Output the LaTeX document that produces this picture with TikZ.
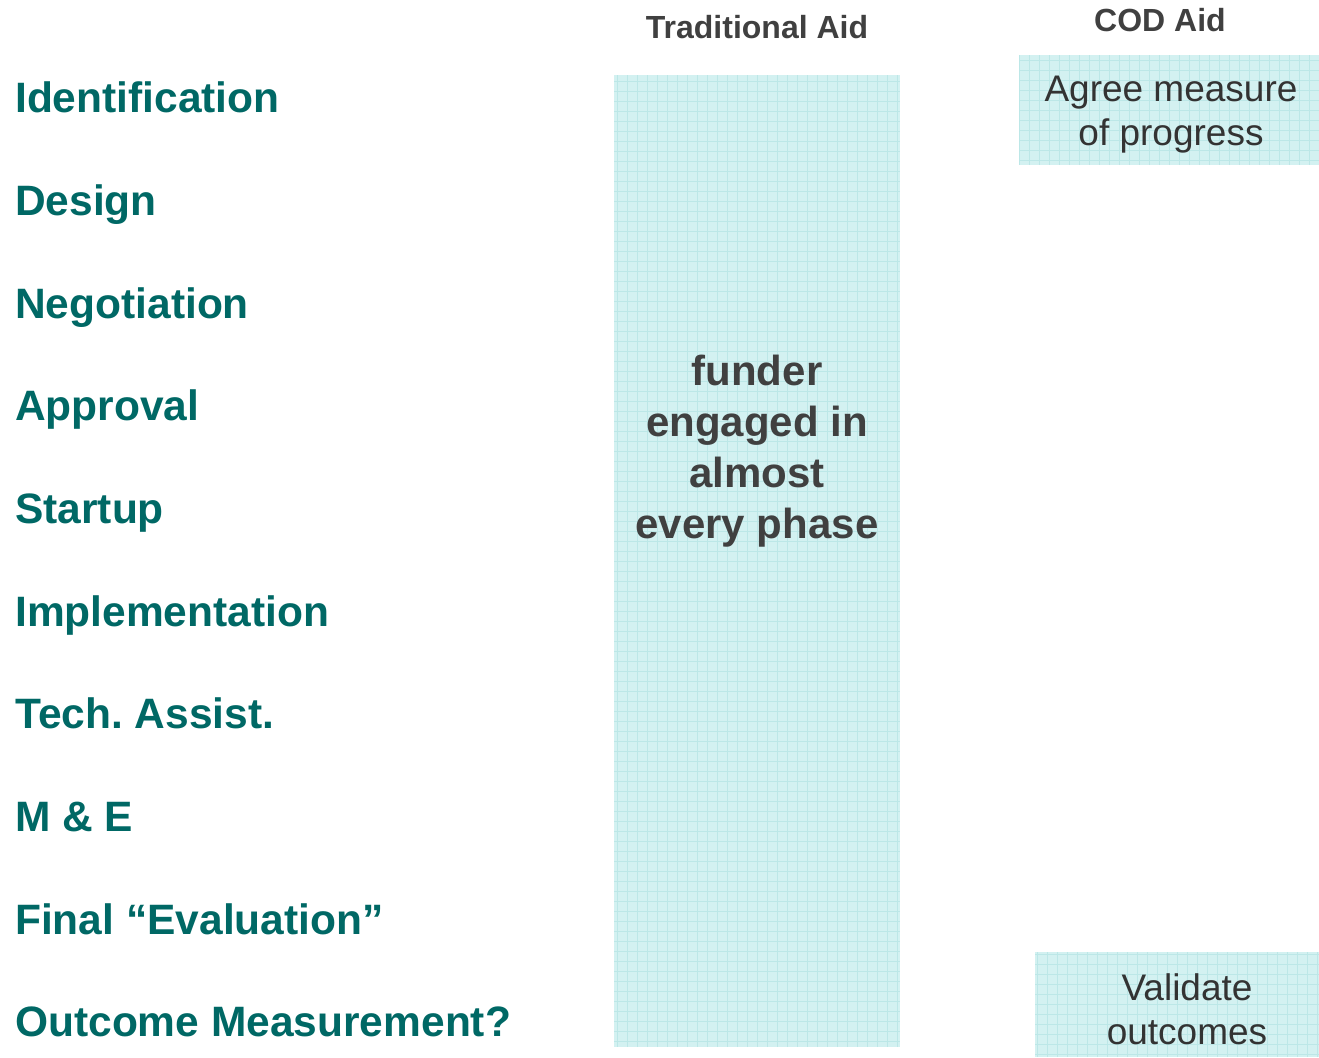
\documentclass[tikz,border=0pt]{standalone}
\usepackage{fontspec}
\setmainfont{Liberation Sans}
\frenchspacing
\definecolor{teal}{HTML}{006865}
\definecolor{darkgray}{HTML}{404040}
\definecolor{boxfill}{HTML}{D3F1F1}
\definecolor{gridline}{HTML}{BCE7E7}
\begin{document}
\begin{tikzpicture}[x=1pt,y=-1pt,
  phase/.style={anchor=base west,inner sep=0pt,text=teal,font=\fontsize{42.5}{43}\selectfont\bfseries},
  header/.style={anchor=base,inner sep=0pt,text=darkgray,font=\fontsize{32}{32}\selectfont\bfseries},
  gridbox/.style={draw=none,fill=boxfill,inner sep=0pt,
    path picture={\draw[gridline,line width=0.5pt] (path picture bounding box.south west) grid[step=10pt] (path picture bounding box.north east);}},
  boxtext/.style={anchor=base,inner sep=0pt,align=center}
]
\useasboundingbox (0,0) rectangle (1319,1057);
% phases
\node[phase] (p1) at (15,112) {Identification};
\node[phase] (p2) at (15,215) {Design};
\node[phase] (p3) at (15,318) {Negotiation};
\node[phase] (p4) at (15,420) {Approval};
\node[phase] (p5) at (15,523) {Startup};
\node[phase] (p6) at (15,626) {Implementation};
\node[phase] (p7) at (15,728) {Tech. Assist.};
\node[phase] (p8) at (15,831) {M \& E};
\node[phase] (p9) at (15,934) {Final “Evaluation”};
\node[phase] (p10) at (15,1036) {Outcome Measurement?};
% headers
\node[header] (h1) at (757,38) {Traditional Aid};
\node[header] (h2) at (1160,32) {COD Aid};
% boxes
\node[gridbox,minimum width=286pt,minimum height=972pt] (trad) at (757,561) {};
\node[gridbox,minimum width=300pt,minimum height=110pt] (agree) at (1169,110) {};
\node[gridbox,minimum width=284pt,minimum height=105pt] (valid) at (1177,1004.5) {};
% texts (base anchor = last line's baseline)
\node[boxtext,font=\fontsize{42}{51}\selectfont\bfseries,text=darkgray] (tt) at (757,538) {funder\\engaged in\\almost\\every phase};
\node[boxtext,font=\fontsize{37}{44}\selectfont,text=black!80] (at) at (1171,145) {Agree measure\\of progress};
\node[boxtext,font=\fontsize{37}{44}\selectfont,text=black!80] (vt) at (1187,1044) {Validate\\outcomes};
\end{tikzpicture}
\end{document}
